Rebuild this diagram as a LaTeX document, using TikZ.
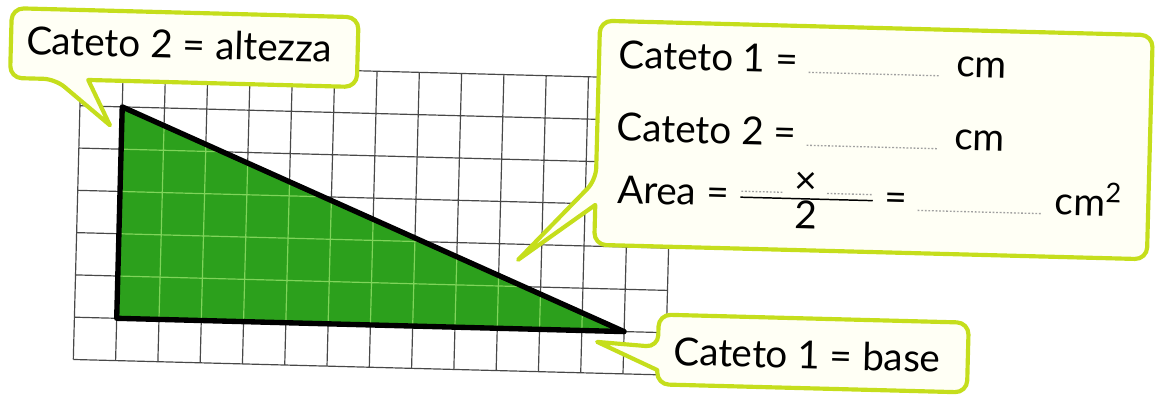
\documentclass[tikz,border=0pt]{standalone}
\usepackage{amsmath}
\usepackage{fontspec}
\setmainfont{Lato}
\definecolor{gridgray}{HTML}{484848}
\definecolor{trigreen}{HTML}{2CA01C}
\definecolor{trilight}{HTML}{7FD45A}
\definecolor{calloutlime}{HTML}{C5DE1C}
\definecolor{calloutfill}{HTML}{FFFFF5}
\definecolor{dotgray}{HTML}{A0A0A0}
\newcommand{\blank}[1]{{\color{dotgray}\leaders\hbox to 2.4pt{\hss\rule{1.2pt}{0.9pt}\hss}\hskip#1\relax}}

\begin{document}
\begin{tikzpicture}[
    every node/.style={font=\fontsize{26}{31}\selectfont, inner sep=0pt},
    gridline/.style={gridgray, line width=0.8pt},
    callout/.style={draw=calloutlime, fill=calloutfill, line width=2.8pt, rounded corners=8pt, line join=round},
  ]
  \useasboundingbox (-1.759,-0.837) rectangle (25.570,8.525);
  \begin{scope}[rotate around={-1.5:(1,1)}, transform shape]
    % squared paper
    \draw[gridline] (0,0) grid (14,7);

    % right triangle, 12 x 5 squares
    \coordinate (B) at (1,1);
    \coordinate (A) at (1,6);
    \coordinate (C) at (13,1);
    \fill[trigreen] (A) -- (B) -- (C) -- cycle;
    \begin{scope}
      \clip (A) -- (B) -- (C) -- cycle;
      \draw[trilight, line width=0.8pt] (0,0) grid (14,7);
    \end{scope}
    \draw[line width=3.6pt, line join=round] (A) -- (B) -- (C) -- cycle;

    % callout: height
    \coordinate (hTip) at (0.72,5.56);
    \draw[callout] (0.18,6.615) -- (6.53,6.615) -- (6.53,8.265) -- (-1.67,8.265)
      -- (-1.67,6.615) -- (-0.6,6.615) [sharp corners] -- (hTip) -- cycle;
    \node (height) at (2.31,7.52) {Cateto 2 = altezza};

    % callout: base
    \coordinate (bTip) at (12.37,0.74);
    \draw[callout] (13.81,0.11) -- (13.81,-0.226) -- (21.14,-0.226) -- (21.14,1.424)
      -- (13.81,1.424) -- (13.81,0.655) [sharp corners] -- (bTip) -- cycle;
    \node (base) at (17.34,0.57) {Cateto 1 = base};

    % callout: exercise
    \coordinate (aTip) at (10.45,2.63);
    \draw[callout] (12.24,3.975) -- (12.24,3.033) -- (25.31,3.033) -- (25.31,8.333)
      -- (12.24,8.333) -- (12.24,4.567) [sharp corners] -- (aTip) -- cycle;
    \node[anchor=base west] (leg1) at (12.7,7.225) {Cateto 1 = \blank{90pt}\hspace{10pt}cm};
    \node[anchor=base west] (leg2) at (12.7,5.50) {Cateto 2 = \blank{90pt}\hspace{10pt}cm};
    \node[anchor=base west] (area) at (12.75,4.03)
      {Area = $\frac{\mbox{\blank{30pt}\hspace{6pt}×\hspace{6pt}\blank{32pt}}}{\mbox{2}}$ = \blank{85pt}\hspace{8pt}cm\textsuperscript{2}};
  \end{scope}
\end{tikzpicture}
\end{document}
